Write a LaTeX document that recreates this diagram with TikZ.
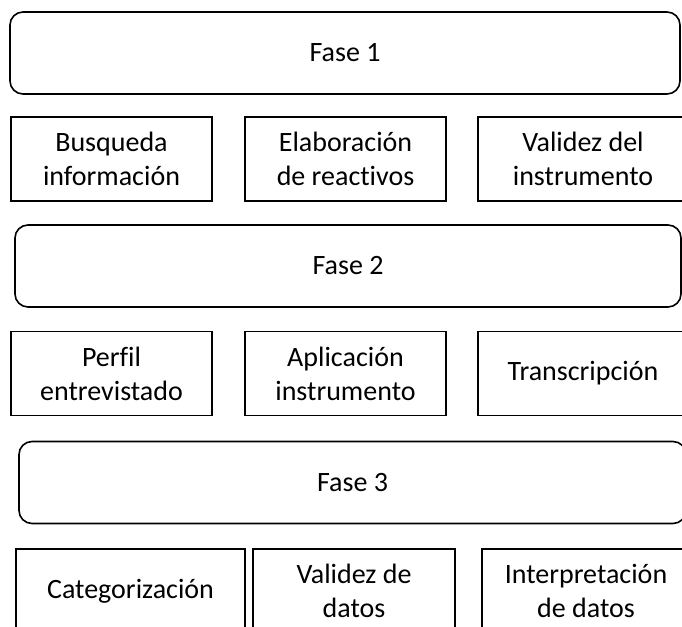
\documentclass[tikz,border=0pt]{standalone}
\usepackage{fontspec}
\setmainfont{Carlito}[Ligatures=NoCommon]
\begin{document}
\begin{tikzpicture}[x=1pt,y=-1pt,line width=1.6pt,
  fase/.style={draw,rounded corners=13pt,minimum height=82pt,inner sep=0pt,
    font=\fontsize{28}{34}\selectfont},
  tarea/.style={draw,minimum height=84pt,inner sep=0pt,align=center,
    font=\fontsize{28}{34}\selectfont}]
          \useasboundingbox (0,0) rectangle (682,626);
          \node[fase,minimum width=670pt] (fase1) at (345,53) {Fase 1};
          \node[tarea,minimum width=201pt] (busq) at (111.5,159) {Busqueda\\información};
          \node[tarea,minimum width=201pt] (elab) at (345.5,159) {Elaboración\\de reactivos};
          \node[tarea,minimum width=210pt] (valid) at (583,159) {Validez del\\instrumento};

          \node[fase,minimum width=666pt] (fase2) at (348,266) {Fase 2};
          \node[tarea,minimum width=201pt] (perfil) at (111.5,373.5) {Perfil\\entrevistado};
          \node[tarea,minimum width=201pt] (aplic) at (345.5,373.5) {Aplicación\\instrumento};
          \node[tarea,minimum width=210pt] (transc) at (583,373.5) {Transcripción};

          \node[fase,minimum width=667pt] (fase3) at (352.5,482.5) {Fase 3};
          \node[tarea,minimum width=229pt] (categ) at (130.5,591) {Categorización};
          \node[tarea,minimum width=202pt] (validd) at (354,591) {Validez de\\datos};
          \node[tarea,minimum width=208pt] (interp) at (586,591) {Interpretación\\de datos};
\end{tikzpicture}
\end{document}
